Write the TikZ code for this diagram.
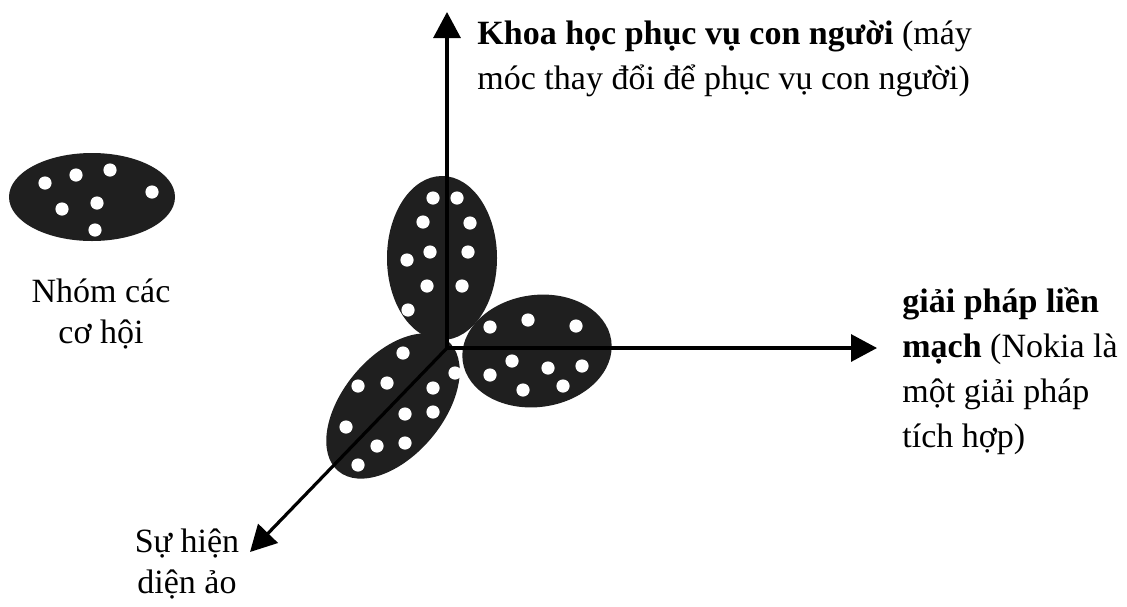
\documentclass[tikz,border=0pt]{standalone}
\usepackage{fontspec}
\setmainfont{Liberation Serif}
\usetikzlibrary{arrows.meta}

\begin{document}
\begin{tikzpicture}[x=0.5pt, y=-0.5pt,
    blob/.style={fill=black!88},
    axis/.style={line width=1.6pt, -{Triangle[length=13pt, width=13.5pt]}},
    lbl/.style={inner sep=0pt, font=\fontsize{17}{20.5}\selectfont},
    widelbl/.style={lbl, font=\fontsize{17}{22.5}\selectfont}]
  \useasboundingbox (0,0) rectangle (1127,606);

  % Opportunity groups
  \fill[blob] (92,197) ellipse [x radius=83, y radius=44];
  \fill[blob] (442,258) ellipse [x radius=55, y radius=82];
  \fill[blob, rotate around={8:(537,351)}] (537,351) ellipse [x radius=75, y radius=56];
  \fill[blob, rotate around={50:(393,406)}] (393,406) ellipse [x radius=85, y radius=50];

  % Axes
  \coordinate (O) at (447,348);
  \coordinate (up) at (447,12);
  \coordinate (right) at (877,348);
  \coordinate (down) at (250,552);
  \draw[axis] (O) -- (up);
  \draw[axis] (O) -- (right);
  \draw[axis] (O) -- (down);

  % Opportunities (white dots)
  \foreach \p in {
      {45,183},{76,175},{110,170},{152,192},{62,209},{97,203},{95,230},
      {433,198},{457,198},{423,222},{470,223},{430,252},{468,252},
      {407,260},{427,286},{462,286},{408,310},
      {490,327},{528,320},{576,326},{512,361},{490,375},{548,368},
      {582,366},{523,390},{563,386},
      {403,353},{455,373},{358,386},{387,383},{433,388},{405,414},
      {433,412},{346,427},{377,446},{405,443},{358,465}} {
    \fill[white] (\p) circle (3.3pt);
  }

  % Labels (base = baseline of the last line)
  \node[widelbl, anchor=base west, align=left] (sci) at (477,89)
    {\textbf{Khoa học phục vụ con người} (máy\\móc thay đổi để phục vụ con người)};
  \node[widelbl, anchor=base west, align=left] (seam) at (902,447)
    {\textbf{giải pháp liền}\\\textbf{mạch} (Nokia là\\một giải pháp\\tích hợp)};
  \node[lbl, anchor=base, align=center] (group) at (101,343) {Nhóm các\\cơ hội};
  \node[lbl, anchor=base, align=center] (virt) at (187,593) {Sự hiện\\diện ảo};
\end{tikzpicture}
\end{document}
